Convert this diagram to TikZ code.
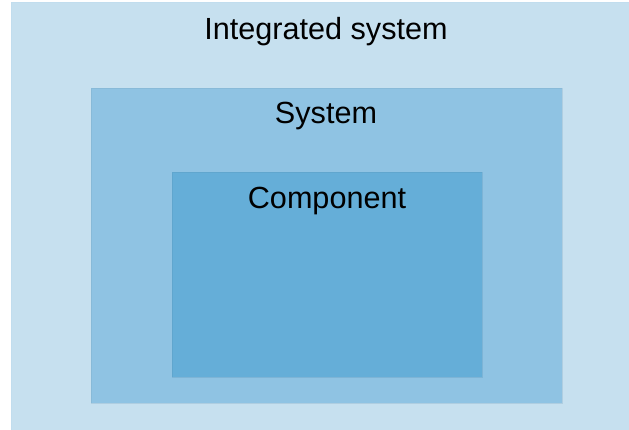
\documentclass[tikz,border=0pt]{standalone}
\usepackage{fontspec}
\setmainfont{Liberation Sans}
\definecolor{outerfill}{HTML}{C6E0EF}
\definecolor{midfill}{HTML}{8FC3E3}
\definecolor{innerfill}{HTML}{65AED8}
\tikzset{
  caption/.style={anchor=base, inner sep=0pt, font=\fontsize{30.6}{36}\selectfont, text=black}
}
\begin{document}
\begin{tikzpicture}[x=1pt, y=-1pt]
  \useasboundingbox (0,0) rectangle (629,430);
  % nested blocks, outermost first
  \fill[outerfill] (11,2) rectangle (629,430);
  \draw[outerfill!90!midfill, line width=0.6pt] (11,430) -- (11,2) -- (629,2);
  \fill[midfill] (91,88) rectangle (562,403);
  \draw[midfill!85!black, line width=0.6pt, opacity=0.3] (91,88) rectangle (562,403);
  \fill[innerfill] (172,172) rectangle (482,377);
  \draw[innerfill!85!black, line width=0.6pt, opacity=0.3] (172,172) rectangle (482,377);
  % labels
  \node[caption] (integrated) at (326,40) {Integrated system};
  \node[caption] (system) at (326,124) {System};
  \node[caption] (component) at (327,209) {Component};
\end{tikzpicture}
\end{document}
